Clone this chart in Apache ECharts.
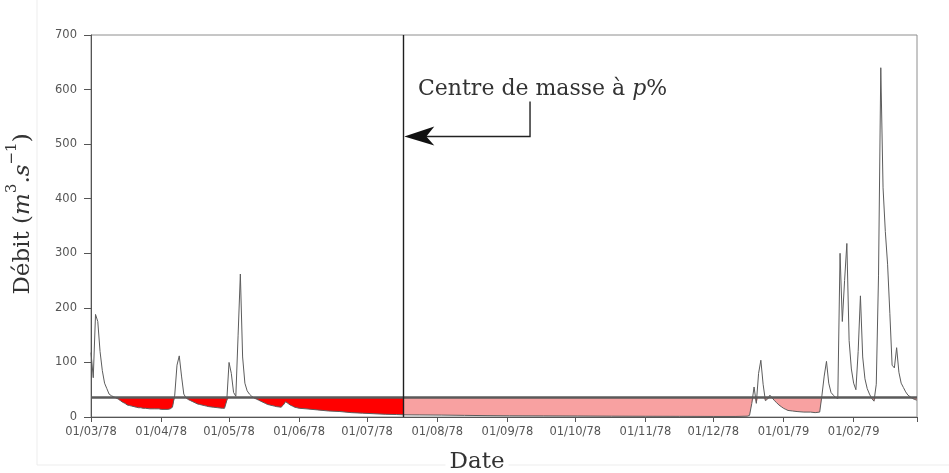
<!DOCTYPE html>
<html>
<head>
<meta charset="utf-8">
<script src="https://cdn.jsdelivr.net/npm/echarts@6/dist/echarts.min.js"></script>
<style>
  html, body { margin: 0; padding: 0; background: #fff; }
  #chart { width: 949px; height: 473px; }
</style>
</head>
<body>
<div id="chart"></div>
<script>
// Daily discharge (m3/s) over the hydrological year starting 1 March 1978.
// Days are counted from 01/03/78.
const days = [
  0, 1, 2, 3, 4, 5, 6, 7, 8, 9, 10, 11, 12, 13, 14, 15, 16, 17, 18, 19, 20,
  21, 22, 23, 24, 26, 28, 30, 31, 34, 35, 36, 37, 38, 39, 40, 41, 42, 43, 44,
  45, 46, 47, 48, 49, 50, 51, 52, 54, 56, 58, 59, 60, 61, 62, 63, 64, 65, 66,
  67, 68, 69, 70, 71, 72, 73, 74, 75, 76, 77, 78, 79, 80, 81, 82, 84, 85, 86,
  87, 88, 89, 90, 91, 92, 95, 100, 105, 110, 115, 120, 125, 130, 135, 138,
  145, 155, 165, 175, 185, 200, 215, 230, 245, 260, 275, 285, 290, 291, 292,
  293, 294, 295, 296, 297, 298, 299, 300, 301, 302, 303, 304, 305, 306, 307,
  308, 310, 312, 315, 318, 320, 322, 323, 324, 325, 326, 327, 328, 329, 330,
  331, 332, 333, 334, 335, 336, 337, 338, 339, 340, 341, 342, 343, 344, 345,
  346, 347, 348, 349, 350, 351, 352, 353, 354, 355, 356, 357, 358, 359, 360,
  361, 362, 363, 364, 365
];
const flow = [
  118, 72, 188, 175, 120, 85, 62, 52, 42, 39, 37, 35, 33, 30, 27, 25, 22, 21, 20, 19, 18,
  17, 17, 16, 16, 15, 15, 15, 14, 14, 15, 18, 40, 95, 112, 75, 42, 35, 32, 30,
  28, 26, 24, 23, 22, 21, 20, 19, 18, 17, 16, 16, 30, 100, 80, 45, 38, 150, 262,
  110, 62, 48, 42, 38, 35, 33, 31, 29, 27, 25, 23, 22, 21, 20, 19, 18, 22, 28,
  25, 22, 20, 18, 17, 16, 15, 13, 11, 10, 8, 7, 6, 5, 4.5, 4,
  3.8, 3.5, 3, 2.5, 2.2, 2, 1.8, 1.5, 1.3, 1.2, 1, 1, 1.5, 3, 25,
  55, 25, 80, 104, 60, 30, 33, 40, 35, 30, 26, 22, 19, 16, 14,
  12, 11, 10, 9, 9, 8, 9, 40, 75, 102, 62, 45, 40, 36, 34,
  300, 175, 250, 318, 140, 88, 62, 50, 120, 222, 110, 70, 52, 42, 34,
  29, 60, 260, 640, 420, 340, 280, 190, 95, 90, 127, 82, 62, 54, 46,
  40, 37, 34, 32, 31
];

// Constant reference discharge and the date of the centre of mass (17/07/78).
const threshold = 36;
const centreDay = 138;

// First day of each month, as day offsets, with their labels.
const monthDays = [0, 31, 61, 92, 122, 153, 184, 214, 245, 275, 306, 337, 365];
const monthLabels = [
  '01/03/78', '01/04/78', '01/05/78', '01/06/78', '01/07/78', '01/08/78',
  '01/09/78', '01/10/78', '01/11/78', '01/12/78', '01/01/79', '01/02/79', ''
];
const yTicks = [0, 100, 200, 300, 400, 500, 600, 700];

const curve = days.map((d, i) => [d, flow[i]]);
// Deficit below the threshold, split at the centre-of-mass date.
const deficit = curve.map(([d, q]) => [d, Math.min(q, threshold)]);
const deficitBefore = deficit.filter(([d]) => d <= centreDay);
const deficitAfter = deficit.filter(([d]) => d >= centreDay);

const serif = 'DejaVu Serif';
const sans = 'DejaVu Sans';

const chart = echarts.init(document.getElementById('chart'), null, { renderer: 'canvas' });

chart.setOption({
  animation: false,
  backgroundColor: '#fff',
  grid: {
    left: 91, right: 32, top: 35, bottom: 56,
    outerBoundsMode: 'none',
    containLabel: false,
    show: true, borderColor: '#8e8e8e', borderWidth: 1, backgroundColor: 'transparent'
  },
  xAxis: {
    type: 'value',
    min: 0, max: 365,
    axisLine: { show: true, lineStyle: { color: '#555', width: 1 } },
    axisTick: { show: true, length: 5, lineStyle: { color: '#555' }, customValues: monthDays },
    axisLabel: {
      customValues: monthDays.slice(0, 12),
      formatter: v => monthLabels[monthDays.indexOf(v)] || '',
      color: '#555', fontFamily: sans, fontSize: 11.5, margin: 9
    },
    splitLine: { show: false }
  },
  yAxis: {
    type: 'value',
    min: 0, max: 700, interval: 100,
    axisLine: { show: true, lineStyle: { color: '#555', width: 1 } },
    axisTick: { show: true, length: 7, lineStyle: { color: '#555' } },
    axisLabel: {
      formatter: v => (yTicks.includes(v) ? String(v) : ''),
      color: '#555', fontFamily: sans, fontSize: 11.5, margin: 14
    },
    splitLine: { show: false },
    name: '{t|Débit (}{i|m}{s|3}{t|.}{i|s}{s|−1}{t|)}',
    nameLocation: 'middle',
    nameGap: 56,
    nameRotate: 90,
    nameTextStyle: {
      padding: [0, 0, 0, 24],
      rich: {
        t: { fontFamily: serif, fontSize: 23, color: '#333', lineHeight: 30, verticalAlign: 'bottom' },
        i: { fontFamily: serif, fontSize: 23, fontStyle: 'italic', color: '#333', lineHeight: 30, verticalAlign: 'bottom' },
        s: { fontFamily: serif, fontSize: 15, color: '#333', lineHeight: 30, verticalAlign: 'top' }
      }
    }
  },
  series: [
    {
      name: 'deficit-before',
      type: 'line',
      data: deficitBefore,
      showSymbol: false,
      lineStyle: { width: 0 },
      areaStyle: { color: '#ff0000', opacity: 1, origin: threshold },
      z: 1,
      silent: true
    },
    {
      name: 'deficit-after',
      type: 'line',
      data: deficitAfter,
      showSymbol: false,
      lineStyle: { width: 0 },
      areaStyle: { color: '#f8a1a1', opacity: 1, origin: threshold },
      z: 1,
      silent: true
    },
    {
      name: 'Débit',
      type: 'line',
      data: curve,
      showSymbol: false,
      lineStyle: { color: '#5c5c5c', width: 1 },
      z: 3,
      silent: true,
      markLine: {
        silent: true,
        symbol: ['none', 'none'],
        label: { show: false },
        data: [
          { yAxis: threshold, lineStyle: { color: '#5a5a5a', width: 2.6, type: 'solid' } },
          { xAxis: centreDay, lineStyle: { color: '#1e1e1e', width: 1.4, type: 'solid' } }
        ]
      }
    }
  ]
});

// Annotation pointing at the centre-of-mass line, placed in data coordinates.
function toPx(d, v) { return chart.convertToPixel({ gridIndex: 0 }, [d, v]); }
const arrowTip = toPx(centreDay, 514);
const arrowCorner = toPx(194, 514);
const arrowStart = toPx(194, 578);
const notePos = toPx(144.5, 601);

chart.setOption({
  graphic: [
    {
      type: 'line', silent: true,
      shape: { x1: 37, y1: 0, x2: 37, y2: 465 },
      style: { stroke: '#ededed', lineWidth: 1 }
    },
    {
      type: 'line', silent: true,
      shape: { x1: 37, y1: 465, x2: 949, y2: 465 },
      style: { stroke: '#ededed', lineWidth: 1 }
    },
    {
      type: 'polyline', silent: true,
      shape: { points: [arrowStart, arrowCorner, [arrowTip[0] + 20, arrowTip[1]]] },
      style: { stroke: '#222', lineWidth: 1.4, fill: null }
    },
    {
      type: 'polygon', silent: true,
      shape: {
        points: [
          [arrowTip[0] + 1, arrowTip[1]],
          [arrowTip[0] + 31, arrowTip[1] - 10],
          [arrowTip[0] + 23, arrowTip[1]],
          [arrowTip[0] + 31, arrowTip[1] + 9]
        ]
      },
      style: { fill: '#111' }
    },
    {
      type: 'text', silent: true,
      x: notePos[0], y: notePos[1],
      style: {
        text: '{t|Centre de masse à }{i|p}{t|%}',
        verticalAlign: 'middle',
        rich: {
          t: { fontFamily: serif, fontSize: 22, fill: '#333' },
          i: { fontFamily: serif, fontSize: 22, fontStyle: 'italic', fill: '#333' }
        }
      }
    },
    {
      type: 'text', silent: true,
      x: 477, y: 462,
      style: {
        text: 'Date',
        fontFamily: serif, fontSize: 23, fill: '#333',
        align: 'center', verticalAlign: 'middle',
        backgroundColor: '#fff', padding: [0, 4]
      }
    }
  ]
});
</script>
</body>
</html>
